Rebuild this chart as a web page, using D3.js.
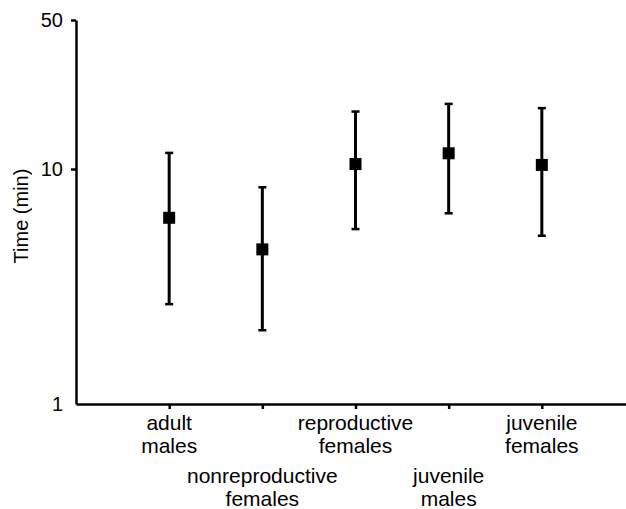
<!DOCTYPE html>
<html>
<head>
<meta charset="utf-8">
<script src="https://cdn.jsdelivr.net/npm/d3@7"></script>
<style>
  html, body { margin: 0; padding: 0; background: #fff; }
  svg { display: block; font-family: "Liberation Sans", Arial, sans-serif; }
  .y-title { opacity: 0.999; }
</style>
</head>
<body>
<svg id="chart" width="626" height="509"></svg>
<script>
// Groups along the x axis (each label split into two lines)
const categories = [
  "adult males",
  "nonreproductive females",
  "reproductive females",
  "juvenile males",
  "juvenile females"
];
const labelLines = [
  ["adult", "males"],
  ["nonreproductive", "females"],
  ["reproductive", "females"],
  ["juvenile", "males"],
  ["juvenile", "females"]
];
// Central estimate and interval limits, in minutes
const means = [6.2, 4.55, 10.55, 11.85, 10.45];
const lower = [2.66, 2.06, 5.55, 6.48, 5.2];
const upper = [11.9, 8.36, 18.6, 20.2, 19.3];
const yTicks = [1, 10, 50];
const yTitle = "Time (min)";

const svg = d3.select("#chart");
const plotLeft = 76, plotBottom = 404, plotTop = 20, plotRight = 635;

const x = d3.scalePoint()
  .domain(categories)
  .range([plotLeft, plotRight])
  .padding(1);

// Log axis, with the 1–10 and 10–50 segments mapped separately
const y = d3.scaleLog()
  .domain([1, 10, 50])
  .range([plotBottom, 169, plotTop]);

// Y axis
const yAxis = svg.append("g")
  .attr("transform", `translate(${plotLeft},0)`)
  .call(d3.axisLeft(y).tickValues(yTicks).tickFormat(d3.format("d"))
    .tickSize(5).tickSizeOuter(0).tickPadding(8));
yAxis.select(".domain").attr("stroke", "#000").attr("stroke-width", 2.5);
yAxis.selectAll(".tick line").attr("stroke", "#000").attr("stroke-width", 2.5)
  .filter(d => d === 1).remove();
yAxis.selectAll(".tick text")
  .attr("font-size", 20).attr("fill", "#000")
  .attr("font-family", "Liberation Sans, Arial, sans-serif");

// X axis
const xAxis = svg.append("g")
  .attr("transform", `translate(0,${plotBottom})`)
  .call(d3.axisBottom(x).tickSize(5).tickSizeOuter(0).tickFormat(""));
xAxis.select(".domain").attr("stroke", "#000").attr("stroke-width", 2.5);
xAxis.selectAll(".tick line").attr("stroke", "#000").attr("stroke-width", 2.5);
xAxis.selectAll(".tick text").remove();

// Category labels, staggered in two rows
const labels = svg.append("g")
  .attr("font-size", 21)
  .attr("fill", "#000")
  .attr("text-anchor", "middle");
categories.forEach((c, i) => {
  const base = plotBottom + 25.5 + (i % 2) * 53;
  const t = labels.append("text")
    .attr("x", x(c))
    .attr("y", base);
  labelLines[i].forEach((line, j) => {
    t.append("tspan").attr("x", x(c)).attr("dy", j === 0 ? 0 : 23).text(line);
  });
});

// Y axis title
svg.append("text")
  .attr("class", "y-title")
  .attr("transform", `translate(28,216) rotate(-90)`)
  .attr("text-anchor", "middle")
  .attr("font-size", 20)
  .attr("fill", "#000")
  .text(yTitle);

// Error bars and points
const capW = 8;
const g = svg.append("g");
categories.forEach((c, i) => {
  const cx = x(c);
  g.append("line")
    .attr("x1", cx).attr("x2", cx)
    .attr("y1", y(lower[i])).attr("y2", y(upper[i]))
    .attr("stroke", "#000").attr("stroke-width", 3);
  [lower[i], upper[i]].forEach(v => {
    g.append("line")
      .attr("x1", cx - capW / 2).attr("x2", cx + capW / 2)
      .attr("y1", y(v)).attr("y2", y(v))
      .attr("stroke", "#000").attr("stroke-width", 2.5);
  });
  g.append("rect")
    .attr("x", cx - 6).attr("y", y(means[i]) - 6)
    .attr("width", 12).attr("height", 12)
    .attr("fill", "#000");
});
</script>
</body>
</html>
